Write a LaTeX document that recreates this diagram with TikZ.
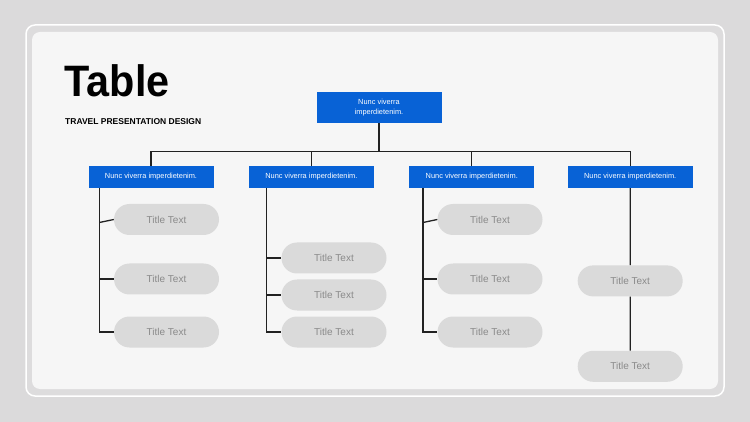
\documentclass[tikz,border=0pt]{standalone}
\usepackage{fontspec}
\setmainfont{Liberation Sans}
\usepackage{graphicx}
\usepackage{tikz}
\usetikzlibrary{positioning}
\usetikzlibrary{calc}
\usetikzlibrary{shapes.misc}

\definecolor{bgray}{HTML}{DBDADB}
\definecolor{panel}{HTML}{F6F6F6}
\definecolor{tblue}{HTML}{0862D6}
\definecolor{pillgray}{HTML}{DADADA}
\definecolor{pilltext}{HTML}{8A8A8A}
\definecolor{linkc}{HTML}{222222}

\begin{document}
\begin{tikzpicture}[x=1pt,y=-1pt,
    headbox/.style={rectangle, fill=tblue, text=white, inner sep=0pt,
        minimum width=125pt, font=\fontsize{7.4}{10}\selectfont},
    pill/.style={rounded rectangle, fill=pillgray, text=pilltext, inner sep=0pt,
        minimum width=105pt, minimum height=31pt, font=\fontsize{10}{11}\selectfont},
    link/.style={draw=linkc, line width=1.3pt}]
        \useasboundingbox (0,0) rectangle (750,422);
        \fill[bgray] (0,0) rectangle (750,422);
        \draw[white, line width=1.5pt, fill=bgray!95!white, rounded corners=9pt] (26,25) rectangle (724,396);
        \fill[panel, rounded corners=8pt] (32,32) rectangle (718,389);

        \node[anchor=base west, inner sep=0pt, font=\fontsize{44}{44}\selectfont\bfseries] (title) at (64.5,97) {\scalebox{0.94}[1]{Table}};
        \node[anchor=base west, inner sep=0pt, font=\fontsize{8.5}{10}\selectfont\bfseries] (subtitle) at (65,125) {TRAVEL PRESENTATION DESIGN};

        \node[headbox, minimum height=31pt, align=center] (top) at (379,107.5) {Nunc viverra\\imperdietenim.};

        \node[headbox, minimum height=22pt] (n1) at (151,177) {Nunc viverra imperdietenim.};
        \node[headbox, minimum height=22pt, right=35pt of n1] (n2) {Nunc viverra imperdietenim.};
        \node[headbox, minimum height=22pt, right=35pt of n2] (n3) {Nunc viverra imperdietenim.};
        \node[headbox, minimum height=22pt, right=33pt of n3] (n4) {Nunc viverra imperdietenim.};

        \node[pill] (p11) at (166.5,219.5) {Title Text};
        \node[pill] (p12) at (166.5,279) {Title Text};
        \node[pill] (p13) at (166.5,332) {Title Text};

        \node[pill] (p21) at (334,258) {Title Text};
        \node[pill] (p22) at (334,295) {Title Text};
        \node[pill] (p23) at (334,332) {Title Text};

        \node[pill] (p31) at (490,219.5) {Title Text};
        \node[pill] (p32) at (490,279) {Title Text};
        \node[pill] (p33) at (490,332) {Title Text};

        \node[pill, below=77pt of n4] (p41) {Title Text};
        \node[pill, below=54pt of p41] (p42) {Title Text};

        % tree links
        \coordinate (bus) at (379,151.5);
        \draw[link] (top) -- (bus);
        \draw[link] (n1) |- (bus) -| (n4);
        \draw[link] (bus -| n2) -- (n2);
        \draw[link] (bus -| n3) -- (n3);

        \coordinate (v1) at ($(n1.south west)+(11,0)$);
        \coordinate (v2) at ($(n2.south west)+(18,0)$);
        \coordinate (v3) at ($(n3.south west)+(14,0)$);

        \draw[link] (v1) |- (p13);
        \draw[link] (v1 |- p12) -- (p12);
        \draw[link] ([yshift=-3pt]v1 |- p11) -- (p11.west);

        \draw[link] (v2) |- (p23);
        \draw[link] (v2 |- p22) -- (p22);
        \draw[link] (v2 |- p21) -- (p21);

        \draw[link] (v3) |- (p33);
        \draw[link] (v3 |- p32) -- (p32);
        \draw[link] ([yshift=-3pt]v3 |- p31) -- (p31.west);

        \draw[link] (n4) -- (p41);
        \draw[link] (p41) -- (p42);
\end{tikzpicture}
\end{document}
